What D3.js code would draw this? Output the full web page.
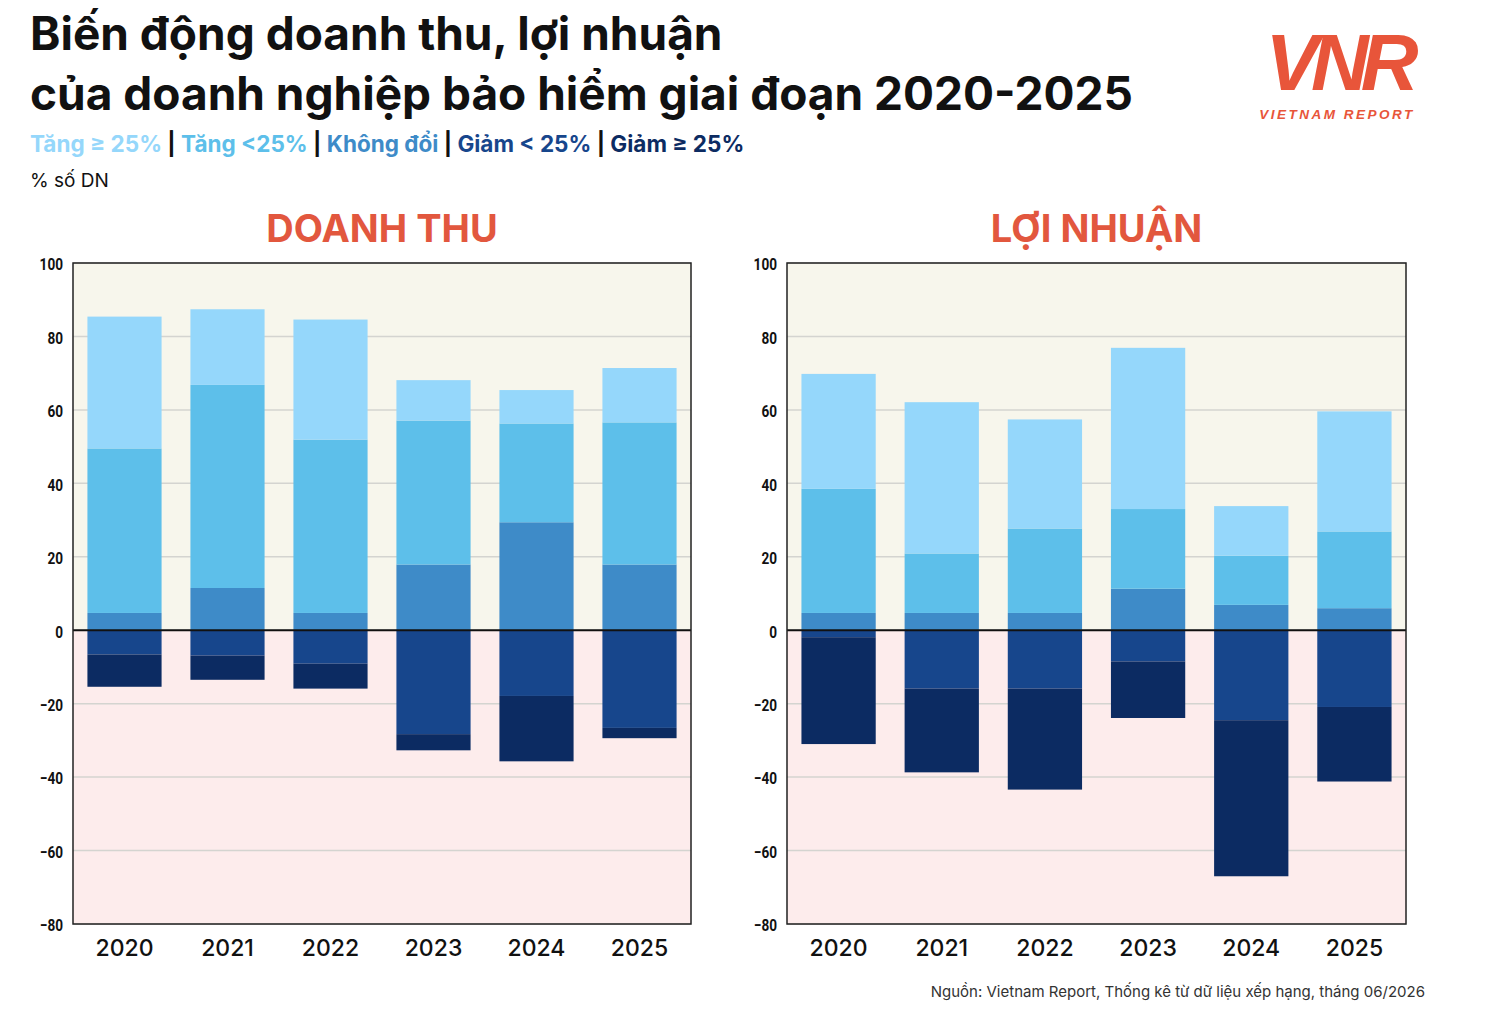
<!DOCTYPE html>
<html><head><meta charset="utf-8">
<script src="https://cdn.jsdelivr.net/npm/d3@7/dist/d3.min.js"></script>
<style>body{margin:0;background:#fff;font-family:"Open Sans",sans-serif}</style>
</head><body><svg id="c" width="1490" height="1010"></svg>
<script>
const years=["2020","2021","2022","2023","2024","2025"];
const seriesNames=["Tăng ≥ 25%","Tăng <25%","Không đổi","Giảm < 25%","Giảm ≥ 25%"];
const colors=["#95d7fb","#5dbfea","#3e8bc8","#17468c","#0c2b62"];
// Doanh thu
const dtTang25=[35.9,20.6,32.7,11.0,9.1,14.8];
const dtTang=[44.8,55.3,47.2,39.2,26.9,38.7];
const dtKhong=[4.7,11.5,4.7,17.9,29.4,17.9];
const dtGiam=[6.6,6.9,9.1,28.3,17.9,26.6];
const dtGiam25=[8.8,6.6,6.8,4.4,17.8,2.8];
// Loi nhuan
const lnTang25=[31.3,41.2,29.7,43.9,13.5,32.7];
const lnTang=[33.8,16.2,23.0,21.7,13.4,20.9];
const lnKhong=[4.7,4.7,4.7,11.3,6.9,6.0];
const lnGiam=[1.9,15.9,15.9,8.5,24.5,20.9];
const lnGiam25=[29.1,22.8,27.5,15.4,42.5,20.3];
const yTicks=[100,80,60,40,20,0,-20,-40,-60,-80];

const svg=d3.select("#c");
svg.append("text").attr("x",30).attr("y",50).attr("font-size",46).attr("font-weight",700).attr("fill","#111").attr("font-family","Inter, sans-serif").text("Biến động doanh thu, lợi nhuận");
svg.append("text").attr("x",30).attr("y",110).attr("font-size",46).attr("font-weight",700).attr("fill","#111").attr("font-family","Inter, sans-serif").text("của doanh nghiệp bảo hiểm giai đoạn 2020-2025");
const leg=svg.append("text").attr("x",30).attr("y",152).attr("font-size",22.5).attr("font-weight",700).attr("font-family","Inter, sans-serif");
seriesNames.forEach((n,i)=>{
  if(i>0) leg.append("tspan").attr("fill","#111").text(" | ");
  leg.append("tspan").attr("fill",colors[i]).text(n);
});
svg.append("text").attr("x",30).attr("y",187).attr("font-size",19).attr("fill","#111").attr("font-family","Inter, sans-serif").text("% số DN");
// logo
const lg=svg.append("g");
lg.append("text").attr("x",1338).attr("y",90).attr("text-anchor","middle").attr("font-size",80).attr("font-style","italic").attr("font-weight",700).attr("fill","#e8553a").attr("font-family","Liberation Sans, sans-serif").attr("letter-spacing",-8).text("VNR");
lg.append("text").attr("x",1337).attr("y",119).attr("text-anchor","middle").attr("font-size",13.5).attr("font-style","italic").attr("font-weight",700).attr("fill","#e8553a").attr("letter-spacing",2.5).attr("font-family","Liberation Sans, sans-serif").text("VIETNAM REPORT");

function panel(x0,x1,title,data){
  const y=d3.scaleLinear().domain([-80,100]).range([924,263]);
  const x=d3.scaleBand().domain(years).range([x0,x1]).paddingInner(0.28).paddingOuter(0.14);
  const g=svg.append("g");
  g.append("rect").attr("x",x0).attr("y",y(100)).attr("width",x1-x0).attr("height",y(0)-y(100)).attr("fill","#f7f6ec");
  g.append("rect").attr("x",x0).attr("y",y(0)).attr("width",x1-x0).attr("height",y(-80)-y(0)).attr("fill","#fdecec");
  yTicks.forEach(t=>{g.append("line").attr("x1",x0).attr("x2",x1).attr("y1",y(t)).attr("y2",y(t)).attr("stroke","#d4d4d0").attr("stroke-width",1.5);});
  years.forEach((yr,i)=>{
    let top=0;
    [data[2],data[1],data[0]].forEach((arr,k)=>{
      const ci=2-k;
      g.append("rect").attr("x",x(yr)).attr("width",x.bandwidth()).attr("y",y(top+arr[i])).attr("height",y(top)-y(top+arr[i])).attr("fill",colors[ci]);
      top+=arr[i];
    });
    let bot=0;
    [data[3],data[4]].forEach((arr,k)=>{
      g.append("rect").attr("x",x(yr)).attr("width",x.bandwidth()).attr("y",y(bot)).attr("height",y(bot-arr[i])-y(bot)).attr("fill",colors[3+k]);
      bot-=arr[i];
    });
  });
  g.append("line").attr("x1",x0).attr("x2",x1).attr("y1",y(0)).attr("y2",y(0)).attr("stroke","#111").attr("stroke-width",2);
  g.append("rect").attr("x",x0).attr("y",y(100)).attr("width",x1-x0).attr("height",y(-80)-y(100)).attr("fill","none").attr("stroke","#222").attr("stroke-width",1.5);
  const ax=g.append("g").attr("transform",`translate(${x0},0)`).call(d3.axisLeft(y).tickValues(yTicks).tickSize(0).tickPadding(10));
  ax.select(".domain").remove();
  ax.selectAll("text").attr("font-size",17).attr("font-weight",700).attr("fill","#111").attr("font-family","Roboto, sans-serif").attr("transform","scale(0.8,1)").attr("x",-10/0.8).attr("dy","0.4em");
  const bx=g.append("g").attr("transform",`translate(0,${y(-80)})`).call(d3.axisBottom(x).tickSize(0).tickPadding(16));
  bx.select(".domain").remove();
  bx.selectAll("text").attr("font-size",23).attr("font-weight",500).attr("fill","#111").attr("font-family","Inter, sans-serif");
  svg.append("text").attr("x",(x0+x1)/2).attr("y",242).attr("text-anchor","middle").attr("font-size",38).attr("font-weight",700).attr("fill","#e2573e").attr("font-family","Inter, sans-serif").text(title);
}
panel(73,691,"DOANH THU",[dtTang25,dtTang,dtKhong,dtGiam,dtGiam25]);
panel(787,1406,"LỢI NHUẬN",[lnTang25,lnTang,lnKhong,lnGiam,lnGiam25]);
svg.append("text").attr("x",1425).attr("y",997).attr("text-anchor","end").attr("font-size",15).attr("fill","#333").attr("font-family","Inter, sans-serif").text("Nguồn: Vietnam Report, Thống kê từ dữ liệu xếp hạng, tháng 06/2026");
</script></body></html>
